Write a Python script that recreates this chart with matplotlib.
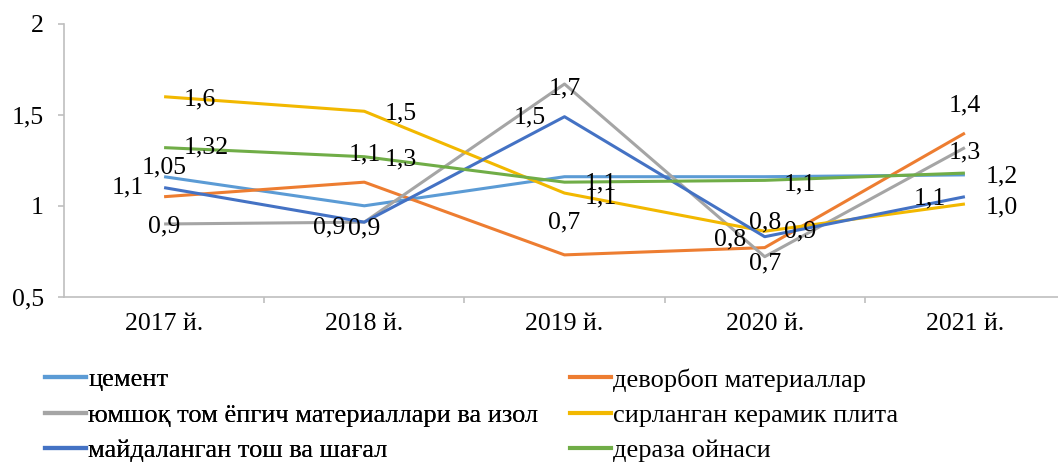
import matplotlib
matplotlib.use("Agg")
import matplotlib.pyplot as plt
from matplotlib.lines import Line2D

plt.rcParams['font.family'] = ['Liberation Serif', 'DejaVu Serif']

years = ['2017 й.', '2018 й.', '2019 й.', '2020 й.', '2021 й.']

# series values
cement = [1.16, 1.00, 1.16, 1.16, 1.17]
devorbop = [1.05, 1.13, 0.73, 0.77, 1.40]
yumshoq = [0.90, 0.91, 1.67, 0.72, 1.32]
sirlangan = [1.60, 1.52, 1.07, 0.86, 1.01]
maydalangan = [1.10, 0.91, 1.49, 0.83, 1.05]
deraza = [1.32, 1.27, 1.13, 1.14, 1.18]

names = ['цемент', 'деворбоп материаллар', 'юмшоқ том ёпгич материаллари ва изол',
         'сирланган керамик плита', 'майдаланган тош ва шағал', 'дераза ойнаси']
colors = ['#5B9BD5', '#ED7D31', '#A5A5A5', '#F2B800', '#4472C4', '#70AD47']

# data labels as shown on the chart (None = no label)
labels = [
    ['1,05', None, None, None, None],
    [None, '1,1', '0,7', '0,8', '1,4'],
    ['0,9', '0,9', '1,7', '0,7', '1,3'],
    ['1,6', '1,5', '1,1', '0,8', '1,0'],
    ['1,1', '0,9', '1,5', '0,9', '1,1'],
    ['1,32', '1,3', '1,1', '1,1', '1,2'],
]
# label offsets in pixels (dx, dy)
offsets = [
    [(0, 9), None, None, None, None],
    [None, (0, 28), (0, 32), (-35, 8), (0, 28)],
    [(0, -2), (0, -6), (0, -4), (0, -7), (0, -5)],
    [(36, -3), (36, -2), (36, -4), (0, 9), (37, -3)],
    [(-36, 0), (-35, -5), (-35, -1), (35, 5), (-35, -2)],
    [(42, 0), (36, -3), (36, -1), (35, -4), (37, -3)],
]

series = [cement, devorbop, yumshoq, sirlangan, maydalangan, deraza]

fs = 18.5

fig = plt.figure(figsize=(10.58, 4.66), dpi=100)
ax = fig.add_axes([64 / 1058, 1 - 296.7 / 466, 1001 / 1058, 272.7 / 466])

x = list(range(len(years)))
for vals, col in zip(series, colors):
    ax.plot(x, vals, color=col, lw=2.2, solid_capstyle='butt')

for vals, labs, offs in zip(series, labels, offsets):
    for i, (v, lab, off) in enumerate(zip(vals, labs, offs)):
        if lab is None:
            continue
        ax.annotate(lab, (i, v), xytext=off, textcoords='offset pixels',
                    ha='center', va='center', fontsize=fs, color='black')

ax.set_xlim(-0.5, 4.5)
ax.set_ylim(0.5, 2.0)
ax.set_yticks([0.5, 1.0, 1.5, 2.0])
ax.set_yticklabels(['0,5', '1', '1,5', '2'])
ax.set_xticks(x)
ax.set_xticklabels(years)
ax.set_xticks([0.5, 1.5, 2.5, 3.5], minor=True)
ax.tick_params(axis='x', which='major', length=0, pad=12, labelsize=fs)
ax.tick_params(axis='x', which='minor', length=4.5, color='#BFBFBF', width=1.2)
ax.tick_params(axis='y', length=4.5, color='#BFBFBF', width=1.2, pad=10, labelsize=fs)
for s in ['top', 'right']:
    ax.spines[s].set_visible(False)
for s in ['left', 'bottom']:
    ax.spines[s].set_color('#BFBFBF')
    ax.spines[s].set_linewidth(1.2)

handles = [Line2D([], [], color=c, lw=3) for c in colors]
leg_kw = dict(loc='upper left', frameon=False, fontsize=19, borderpad=0, borderaxespad=0,
              handlelength=1.55, handletextpad=0.08, labelspacing=0.45)
leg1 = fig.legend([handles[0], handles[2], handles[4]], [names[0], names[2], names[4]],
                  bbox_to_anchor=(45 / 1058, 1 - 368 / 466), **leg_kw)
leg2 = fig.legend([handles[1], handles[3], handles[5]], [names[1], names[3], names[5]],
                  bbox_to_anchor=(570 / 1058, 1 - 368 / 466), **leg_kw)
fig.add_artist(leg1)

fig.savefig('out.png', dpi=100)
